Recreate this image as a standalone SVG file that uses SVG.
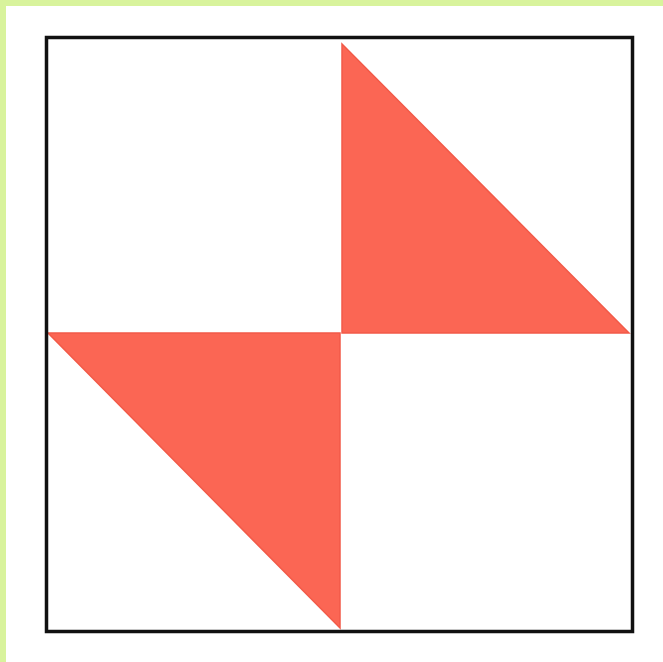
<svg xmlns="http://www.w3.org/2000/svg" width="663" height="662" viewBox="0 0 663 662">
<style>
.tri{fill:#fb6654;stroke:#f25a48;stroke-width:1.5;stroke-linejoin:miter}
.frame{fill:none;stroke:#111;stroke-width:3.5}
</style>
<rect x="0" y="0" width="663" height="662" fill="#ffffff"/>
<rect x="0" y="0" width="663" height="6" fill="#d8f39c"/>
<rect x="0" y="0" width="6" height="662" fill="#d8f39c"/>
<g id="upper-triangle"><polygon class="tri" points="342,44 629,333 342,333"/></g>
<g id="lower-triangle"><polygon class="tri" points="48,333 340,333 340,628"/></g>
<g id="frame"><rect class="frame" x="46.5" y="37.5" width="586" height="594"/></g>
</svg>
